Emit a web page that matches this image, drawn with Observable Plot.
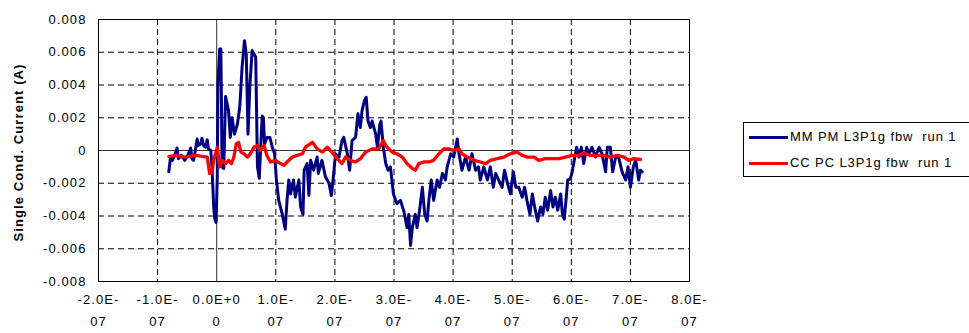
<!DOCTYPE html>
<html>
<head>
<meta charset="utf-8">
<script src="https://cdn.jsdelivr.net/npm/d3@7"></script>
<script src="https://cdn.jsdelivr.net/npm/@observablehq/plot@0.6"></script>
<style>
  html, body { margin: 0; padding: 0; background: #fff; overflow: hidden; }
  #wrap { position: relative; width: 969px; height: 333px; overflow: hidden; font-family: "Liberation Sans", Arial, sans-serif; }
  #legend { position: absolute; left: 743px; top: 122px; width: 240px; height: 55px; border: 1px solid #000; background: #fff; box-sizing: border-box; }
  .row { position: absolute; left: 0; height: 16px; font-size: 13px; letter-spacing: 0.9px; white-space: pre; color: #000; }
  .swatch { position: absolute; left: 5px; width: 39px; height: 3px; }
  .lab { position: absolute; left: 46px; top: -8px; line-height: 16px; }
</style>
</head>
<body>
<div id="wrap"></div>
<script>
// Time in ns, current in mA (converted to s and A when building the table)
const blueTimeNs = [-81,-78,-75,-71,-67,-65,-60,-54,-49,-44,-42,-39,-33,-31,-27,-25,-22,-19,-16,-14,-10,-8,-5,-3,-1,1,2,5,7,8,9,12,15,20,23,26,30,35,39,43,47,50,53,56,60,66,69,72,77,79,81,85,90,94,98,101,105,111,116,119,122,125,130,133,139,142,146,148,153,156,159,164,170,172,178,184,190,194,198,201,207,212,215,221,225,229,235,239,243,246,250,253,256,260,263,269,272,276,278,282,286,290,294,299,305,311,317,322,325,328,331,336,339,344,348,352,356,359,363,367,373,377,382,387,390,396,401,407,410,415,421,427,432,438,443,446,452,458,463,468,472,477,483,487,492,497,502,506,511,517,521,525,530,534,538,543,548,552,556,560,565,569,573,577,582,585,588,592,594,598,601,605,609,613,617,621,626,630,635,641,647,652,658,661,666,670,675,680,686,692,696,700,705,709,714,717,720];
const blueCurrentMA = [-1.3,-0.4,-0.6,-0.3,0.15,-0.5,-0.3,-0.6,-0.3,0.15,-0.5,-0.6,0.7,0.3,0.4,0.75,0.3,0.2,0.65,0.1,0,-1.0,-3.5,-4.2,-4.4,-1.5,3.9,6.2,6.2,3.1,-1.0,-1.1,3.3,2.45,0.8,2.0,1.0,1.6,2.65,5.1,6.7,5.9,1.0,3.9,6.1,5.7,-1.0,-1.7,2.1,2.0,0.4,0.8,0.8,0.2,-0.2,-1.8,-3.05,-3.9,-4.8,-3.05,-1.8,-2.65,-1.8,-2.85,-1.8,-3.45,-3.9,-1.2,-0.8,-2.75,-0.6,-1.2,-0.4,-1.4,-0.6,-1.6,-2.0,-2.75,-1.4,-0.2,-0.4,0.6,0.8,-0.2,-1.2,0.6,0.8,2.25,1.4,2.45,3.05,3.25,1.8,1.4,1.8,1.0,0.2,1.6,1.8,0.2,-0.8,-1.2,-1.0,-2.65,-3.25,-3.05,-3.75,-4.7,-3.9,-5.8,-4.7,-3.9,-4.7,-3.45,-2.25,-3.9,-4.3,-3.05,-1.8,-3.05,-1.8,-2.25,-1.4,-1.8,-1.0,-0.2,-0.4,0.7,-0.2,-1.2,-0.4,-1.2,-0.2,-1.2,-1.0,-1.8,-1.0,-1.8,-1.0,-2.25,-1.4,-1.8,-2.25,-1.2,-2.0,-2.65,-1.3,-2.25,-2.25,-2.85,-2.25,-3.05,-3.9,-2.65,-3.45,-4.3,-3.45,-3.9,-2.85,-3.65,-2.45,-3.45,-2.85,-3.65,-2.65,-3.9,-4.2,-2.65,-1.8,-1.75,-1.4,-0.6,0.2,-0.4,0.2,-0.8,0.2,-0.2,0.2,-0.4,0.2,-0.2,-1.3,0.2,0.2,-1.3,-0.4,-0.4,-1.3,-1.8,-1.0,-2.25,-1.0,-0.6,-1.8,-1.2,-1.3];

const redTimeNs = [-81,-70,-53,-36,-27,-16,-12,-8,-5,1,5,9,15,20,25,29,33,37,41,46,52,57,63,69,73,80,85,91,99,108,114,119,128,136,145,150,162,170,179,187,195,204,212,218,226,235,243,252,263,274,282,288,297,305,314,322,331,336,342,350,359,367,376,384,393,401,410,415,424,435,446,455,463,475,486,497,508,517,525,537,545,556,568,579,590,602,613,621,632,644,655,666,678,689,697,705,717];
const redCurrentMA = [-0.37,-0.3,-0.4,-0.3,-0.35,-0.4,-1.4,-1.3,-0.6,0.2,-1.0,-0.6,-0.8,-0.6,-0.8,-0.4,0.4,0.5,-0.1,-0.2,-0.4,-0.2,0.2,0.3,0,0.3,-0.3,-0.7,-0.6,-0.8,-0.9,-0.7,-0.4,-0.3,-0.2,0.2,0.5,0.1,-0.1,0.2,-0.1,-0.5,-0.8,-0.4,-0.6,-0.7,-0.5,-0.1,0.1,0.1,0.6,0.2,-0.1,-0.2,-0.4,-0.8,-1.1,-1.2,-0.8,-0.7,-0.7,-0.6,-0.2,0.1,0.1,0,0.1,-0.2,-0.4,-0.6,-0.7,-0.8,-0.6,-0.5,-0.4,-0.2,-0.1,-0.3,-0.4,-0.4,-0.6,-0.5,-0.5,-0.5,-0.4,-0.3,-0.3,-0.15,-0.3,-0.3,-0.3,-0.4,-0.3,-0.4,-0.6,-0.5,-0.55];

const seriesNames = ["MM PM L3P1g fbw  run 1", "CC PC L3P1g fbw  run 1"];
const seriesColors = ["#000080", "#ff0000"];

const xTicks = [-2e-7, -1e-7, 0, 1e-7, 2e-7, 3e-7, 4e-7, 5e-7, 6e-7, 7e-7, 8e-7];
const xTickLine1 = ["-2.0E-", "-1.0E-", "0.0E+0", "1.0E-", "2.0E-", "3.0E-", "4.0E-", "5.0E-", "6.0E-", "7.0E-", "8.0E-"];
const xTickLine2 = ["07", "07", "0", "07", "07", "07", "07", "07", "07", "07", "07"];
const yTicks = [-0.008, -0.006, -0.004, -0.002, 0, 0.002, 0.004, 0.006, 0.008];
const yTickLabels = ["-0.008", "-0.006", "-0.004", "-0.002", "0", "0.002", "0.004", "0.006", "0.008"];
const yTitle = "Single Cond. Current (A)";

const blue = blueTimeNs.map((t, i) => ({t: t * 1e-9, v: blueCurrentMA[i] * 1e-3}));
const red = redTimeNs.map((t, i) => ({t: t * 1e-9, v: redCurrentMA[i] * 1e-3}));
const xIdx = xTicks.map((_, i) => i);
const yIdx = yTicks.map((_, i) => i);

const chart = Plot.plot({
  width: 969,
  height: 333,
  marginLeft: 98,
  marginRight: 280,
  marginTop: 19,
  marginBottom: 52,
  style: {fontFamily: "'Liberation Sans', Arial, sans-serif", fontSize: "13px", letterSpacing: "1.1px", color: "#000", background: "transparent", overflow: "visible"},
  x: {domain: [-2e-7, 8e-7], axis: null},
  y: {domain: [-0.008, 0.008], axis: null},
  marks: [
    Plot.ruleX(xTicks.filter(d => d !== 0), {stroke: "#000", strokeWidth: 1, strokeDasharray: "6,4"}),
    Plot.ruleY(yTicks.filter(d => d !== 0), {stroke: "#000", strokeWidth: 1, strokeDasharray: "6,4"}),
    Plot.ruleX([0], {stroke: "#333", strokeWidth: 1}),
    Plot.ruleY([0], {stroke: "#333", strokeWidth: 1}),
    Plot.frame({stroke: "#000", strokeWidth: 1}),
    Plot.line(blue, {x: "t", y: "v", stroke: seriesColors[0], strokeWidth: 3}),
    Plot.line(red, {x: "t", y: "v", stroke: seriesColors[1], strokeWidth: 3.3}),
    Plot.text(xIdx, {x: i => xTicks[i], text: i => xTickLine1[i], frameAnchor: "bottom", dy: 22, fill: "#000"}),
    Plot.text(xIdx, {x: i => xTicks[i], text: i => xTickLine2[i], frameAnchor: "bottom", dy: 44, fill: "#000"}),
    Plot.text(yIdx, {y: i => yTicks[i], text: i => yTickLabels[i], frameAnchor: "left", dx: -12, textAnchor: "end", fill: "#000"}),
    Plot.text([yTitle], {text: d => d, frameAnchor: "left", textAnchor: "middle", dx: -80, dy: 2, rotate: -90, fontWeight: "bold", fontSize: 13, fill: "#000"})
  ]
});

const wrap = document.getElementById("wrap");
wrap.appendChild(chart);

const legend = document.createElement("div");
legend.id = "legend";
seriesNames.forEach((name, i) => {
  const row = document.createElement("div");
  row.className = "row";
  row.style.top = (i === 0 ? 14 : 40) + "px";
  const sw = document.createElement("div");
  sw.className = "swatch";
  sw.style.background = seriesColors[i];
  sw.style.top = "-1px";
  const lab = document.createElement("div");
  lab.className = "lab";
  lab.textContent = name;
  row.appendChild(sw);
  row.appendChild(lab);
  legend.appendChild(row);
});
wrap.appendChild(legend);
</script>
</body>
</html>
